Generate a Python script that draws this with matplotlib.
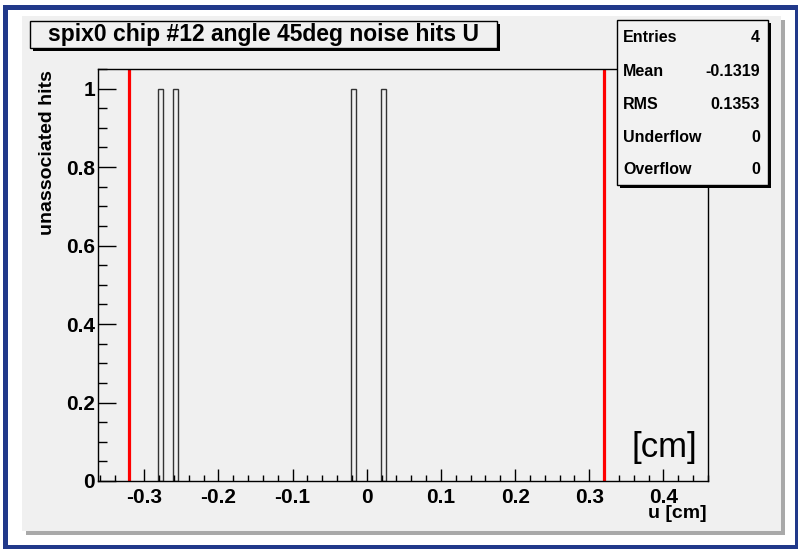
import numpy as np
import matplotlib
matplotlib.use("Agg")
import matplotlib.pyplot as plt
from matplotlib.patches import Rectangle
from matplotlib.ticker import MultipleLocator

plt.rcParams['font.family'] = ['Liberation Sans', 'DejaVu Sans']

# histogram content (bin centres in cm, entries)
hit_u = [-0.278, -0.258, -0.0175, 0.023]
hit_n = [1, 1, 1, 1]
bin_w = 0.0065
edges_u = [-0.32, 0.32]   # sensor edges (red lines)

title = "spix0 chip #12 angle 45deg noise hits U"
stats_names = ["Entries", "Mean", "RMS", "Underflow", "Overflow"]
stats_vals = ["4", "-0.1319", "0.1353", "0", "0"]

W, H = 798, 549
fig = plt.figure(figsize=(W / 100, H / 100), dpi=100)
fig.patch.set_facecolor('white')


def box(x0, y0, x1, y1, **kw):
    # rectangle given in pixel coords, origin top-left
    r = Rectangle((x0 / W, 1 - y1 / H), (x1 - x0) / W, (y1 - y0) / H,
                  transform=fig.transFigure, **kw)
    fig.add_artist(r)
    return r


def ftext(x, y, s, **kw):
    fig.text(x / W, 1 - y / H, s, **kw)


blue = '#21398a'
# outer blue border
box(3, 5, 8, 549, facecolor=blue, edgecolor='none', zorder=-5)
box(3, 5, 798, 10, facecolor=blue, edgecolor='none', zorder=-5)
box(795, 5, 798, 549, facecolor=blue, edgecolor='none', zorder=-5)
box(3, 545, 798, 549, facecolor=blue, edgecolor='none', zorder=-5)

# grey pad with shadow
box(26, 20, 785, 535, facecolor='#a9a9a9', edgecolor='none', zorder=-4)
box(22, 16, 781, 531, facecolor='#f0f0f0', edgecolor='none', zorder=-3)

ax = fig.add_axes([98 / W, 1 - 481 / H, (708 - 98) / W, (481 - 69) / H])
ax.set_facecolor('#f0f0f0')
ax.set_xlim(-0.3624, 0.46)
ax.set_ylim(0, 1.05)

ax.bar(hit_u, hit_n, width=bin_w, fill=False, edgecolor='#333333', linewidth=1.0)
for xe in edges_u:
    ax.axvline(xe, color='#ff0000', linewidth=2.3)

ax.xaxis.set_major_locator(MultipleLocator(0.1))
ax.xaxis.set_minor_locator(MultipleLocator(0.02))
ax.yaxis.set_major_locator(MultipleLocator(0.2))
ax.yaxis.set_minor_locator(MultipleLocator(0.05))
ax.xaxis.set_major_formatter(plt.FuncFormatter(lambda v, p: "0" if abs(v) < 1e-9 else "%g" % round(v, 2)))
ax.yaxis.set_major_formatter(plt.FuncFormatter(lambda v, p: "0" if abs(v) < 1e-9 else "%g" % round(v, 2)))
ax.tick_params(axis='x', which='major', direction='in', length=8.6, width=1, pad=5, labelsize=15)
ax.tick_params(axis='x', which='minor', direction='in', length=4.3, width=1)
ax.tick_params(axis='y', which='major', direction='in', length=13, width=1, pad=2, labelsize=15)
ax.tick_params(axis='y', which='minor', direction='in', length=6.5, width=1)
for lab in ax.get_xticklabels() + ax.get_yticklabels():
    lab.set_fontweight('bold')
for sp in ax.spines.values():
    sp.set_linewidth(1.0)

ftext(707, 514, "u [cm]", ha='right', va='center', fontsize=14, fontweight='bold')
ftext(47.5, 70, "unassociated hits", ha='center', va='top', rotation=90,
      fontsize=14, fontweight='bold')
ftext(697, 447, "[cm]", ha='right', va='center', fontsize=25)

# title box
box(33, 24, 500, 51, facecolor='black', edgecolor='none', zorder=6)
box(30, 21, 497, 48, facecolor='#f0f0f0', edgecolor='black', linewidth=1, zorder=7)
ftext(263, 34.5, title, ha='center', va='center', fontsize=16.5, fontweight='bold', zorder=8)

# stats box
box(620, 23, 771, 188, facecolor='black', edgecolor='none', zorder=6)
box(617, 20, 768, 185, facecolor='#f2f2f2', edgecolor='black', linewidth=1, zorder=7)
rows_y = [37, 71, 104, 137, 169]
for yy, nm, vv in zip(rows_y, stats_names, stats_vals):
    ftext(623, yy, nm, ha='left', va='center', fontsize=11.5, fontweight='bold', zorder=8)
    ftext(760, yy, vv, ha='right', va='center', fontsize=11.5, fontweight='bold', zorder=8)

fig.savefig("out.png", dpi=100)
